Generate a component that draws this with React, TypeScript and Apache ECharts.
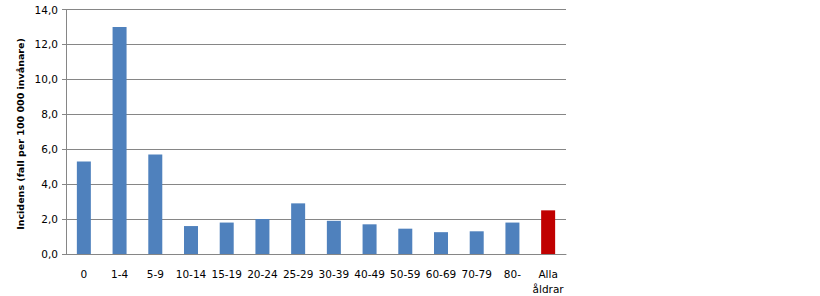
import React, { useEffect, useRef } from "react";
import * as echarts from "echarts";

const categories = ["0", "1-4", "5-9", "10-14", "15-19", "20-24", "25-29", "30-39", "40-49", "50-59", "60-69", "70-79", "80-", "Alla\nåldrar"];
const values = [5.3, 13.0, 5.7, 1.6, 1.8, 2.0, 2.9, 1.9, 1.7, 1.45, 1.25, 1.3, 1.8, 2.5];
const highlightIndex = 13;
const yTitle = "Incidens (fall per 100 000 invånare)";

export default function App() {
  const ref = useRef<HTMLDivElement>(null);
  useEffect(() => {
    if (!ref.current) return;
    const chart = echarts.init(ref.current, undefined, { renderer: "svg" });
    const font = "'DejaVu Sans', Verdana, sans-serif";
    chart.setOption({
      animation: false,
      backgroundColor: "#ffffff",
      grid: { left: 66, top: 9.5, width: 500, height: 244.5, containLabel: false },
      graphic: [
        {
          type: "text",
          x: 20,
          y: 134,
          rotation: Math.PI / 2,
          style: {
            text: yTitle,
            fontFamily: font,
            fontSize: 9.5,
            fontWeight: "bold",
            fill: "#000",
            textAlign: "center",
            textVerticalAlign: "middle",
          },
        },
      ],
      xAxis: {
        type: "category",
        data: categories,
        axisLine: { lineStyle: { color: "#868686" } },
        axisTick: { length: 4, lineStyle: { color: "#868686" } },
        axisLabel: { color: "#000", fontFamily: font, fontSize: 10.5, margin: 12, lineHeight: 15, interval: 0 },
      },
      yAxis: {
        type: "value",
        min: 0,
        max: 14,
        interval: 2,
        axisLine: { show: true, lineStyle: { color: "#868686" } },
        axisTick: { show: true, length: 4, lineStyle: { color: "#868686" } },
        splitLine: { lineStyle: { color: "#868686" } },
        axisLabel: {
          color: "#000",
          fontFamily: font,
          fontSize: 10.5,
          margin: 8,
          formatter: (v: number) => v.toFixed(1).replace(".", ","),
        },
      },
      series: [
        {
          type: "bar",
          barWidth: 14,
          data: values.map((v, i) => ({
            value: v,
            itemStyle: { color: i === highlightIndex ? "#C00000" : "#4F81BD" },
          })),
        },
      ],
    });
    return () => chart.dispose();
  }, []);
  return <div ref={ref} style={{ position: "fixed", left: 0, top: 0, width: 820, height: 296 }} />;
}
